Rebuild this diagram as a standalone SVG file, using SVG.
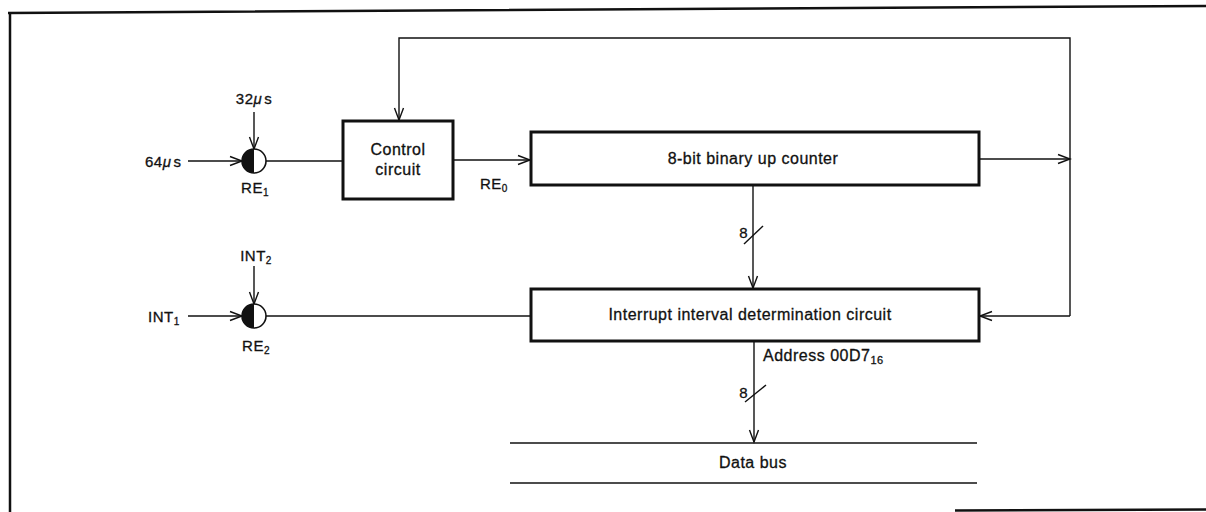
<svg xmlns="http://www.w3.org/2000/svg" width="1206" height="512" viewBox="0 0 1206 512">
<style>
text{font-family:"Liberation Sans",Arial,sans-serif;fill:#111;stroke:#111;stroke-width:0.3;letter-spacing:0.5px}
.box{fill:#fff;stroke:#111;stroke-width:3}
.ln{fill:none;stroke:#111;stroke-width:1.4}
.lbl{font-size:15px}
.big{font-size:16px}
.sub{font-size:10px}
.sub2{font-size:11px}
.frame{fill:none;stroke:#111;stroke-width:2.5}
</style>
<defs>
<marker id="arr" markerUnits="userSpaceOnUse" markerWidth="16" markerHeight="12" viewBox="-13 -6 14 12" refX="0" refY="0" orient="auto">
<path d="M-12,-4.5 L0,0 L-12,4.5" fill="none" stroke="#111" stroke-width="1.4"/>
</marker>
</defs>
<g id="frame">
<path class="frame" d="M1206,6 L8,13 M10,12 L10,512 M955,510.5 L1206,509.5"/>
</g>
<g id="connectors">
<line class="ln" x1="254" y1="112" x2="254" y2="149" marker-end="url(#arr)"/>
<line class="ln" x1="188" y1="161" x2="242" y2="161" marker-end="url(#arr)"/>
<line class="ln" x1="266" y1="161" x2="343" y2="161"/>
<line class="ln" x1="453" y1="160" x2="530" y2="160" marker-end="url(#arr)"/>
<line class="ln" x1="979" y1="159" x2="1070" y2="159" marker-end="url(#arr)"/>
<polyline class="ln" points="1070,316 1070,38 399,38 399,120" marker-end="url(#arr)"/>
<line class="ln" x1="1070" y1="316" x2="980" y2="316" marker-end="url(#arr)"/>
<line class="ln" x1="254" y1="266" x2="254" y2="304" marker-end="url(#arr)"/>
<line class="ln" x1="188" y1="316" x2="242" y2="316" marker-end="url(#arr)"/>
<line class="ln" x1="266" y1="316" x2="531" y2="316"/>
<line class="ln" x1="753" y1="185" x2="753" y2="288" marker-end="url(#arr)"/>
<line class="ln" x1="744" y1="244" x2="763" y2="226"/>
<line class="ln" x1="754" y1="341" x2="754" y2="442" marker-end="url(#arr)"/>
<line class="ln" x1="745" y1="402" x2="766" y2="385"/>
</g>
<g id="re1">
<circle cx="254" cy="161" r="12" fill="#fff" stroke="#111" stroke-width="1.6"/>
<path d="M254,149 A12,12 0 0 0 254,173 Z" fill="#111"/>
<text class="lbl" x="254" y="104" text-anchor="middle">32<tspan font-style="italic">μ</tspan><tspan dx="2">s</tspan></text>
<text class="lbl" x="145" y="167">64<tspan font-style="italic">μ</tspan><tspan dx="2">s</tspan></text>
<text class="lbl" x="255" y="193" text-anchor="middle">RE<tspan class="sub" dy="3">1</tspan></text>
</g>
<g id="re2">
<circle cx="254" cy="316" r="12" fill="#fff" stroke="#111" stroke-width="1.6"/>
<path d="M254,304 A12,12 0 0 0 254,328 Z" fill="#111"/>
<text class="lbl" x="256" y="261" text-anchor="middle">INT<tspan class="sub" dy="3">2</tspan></text>
<text class="lbl" x="148" y="322">INT<tspan class="sub" dy="3">1</tspan></text>
<text class="lbl" x="256" y="351" text-anchor="middle">RE<tspan class="sub" dy="3">2</tspan></text>
</g>
<g id="control">
<rect class="box" x="343" y="121" width="110" height="78"/>
<text class="big" x="398" y="155" text-anchor="middle">Control</text>
<text class="big" x="398" y="175" text-anchor="middle">circuit</text>
</g>
<text class="lbl" x="480" y="189">RE<tspan class="sub" dy="3">0</tspan></text>
<g id="counter">
<rect class="box" x="531" y="132" width="448" height="53"/>
<text class="big" x="753" y="164" text-anchor="middle">8-bit binary up counter</text>
</g>
<text class="lbl" x="748" y="238" text-anchor="end">8</text>
<g id="interrupt">
<rect class="box" x="531" y="289" width="448" height="52"/>
<text class="big" x="750" y="320" text-anchor="middle">Interrupt interval determination circuit</text>
</g>
<text class="big" x="763" y="361">Address 00D7<tspan class="sub2" dy="3">16</tspan></text>
<text class="lbl" x="748" y="398" text-anchor="end">8</text>
<g id="databus">
<line class="ln" x1="510" y1="443" x2="977" y2="443"/>
<line class="ln" x1="510" y1="483" x2="977" y2="483"/>
<text class="big" x="753" y="468" text-anchor="middle">Data bus</text>
</g>
</svg>
